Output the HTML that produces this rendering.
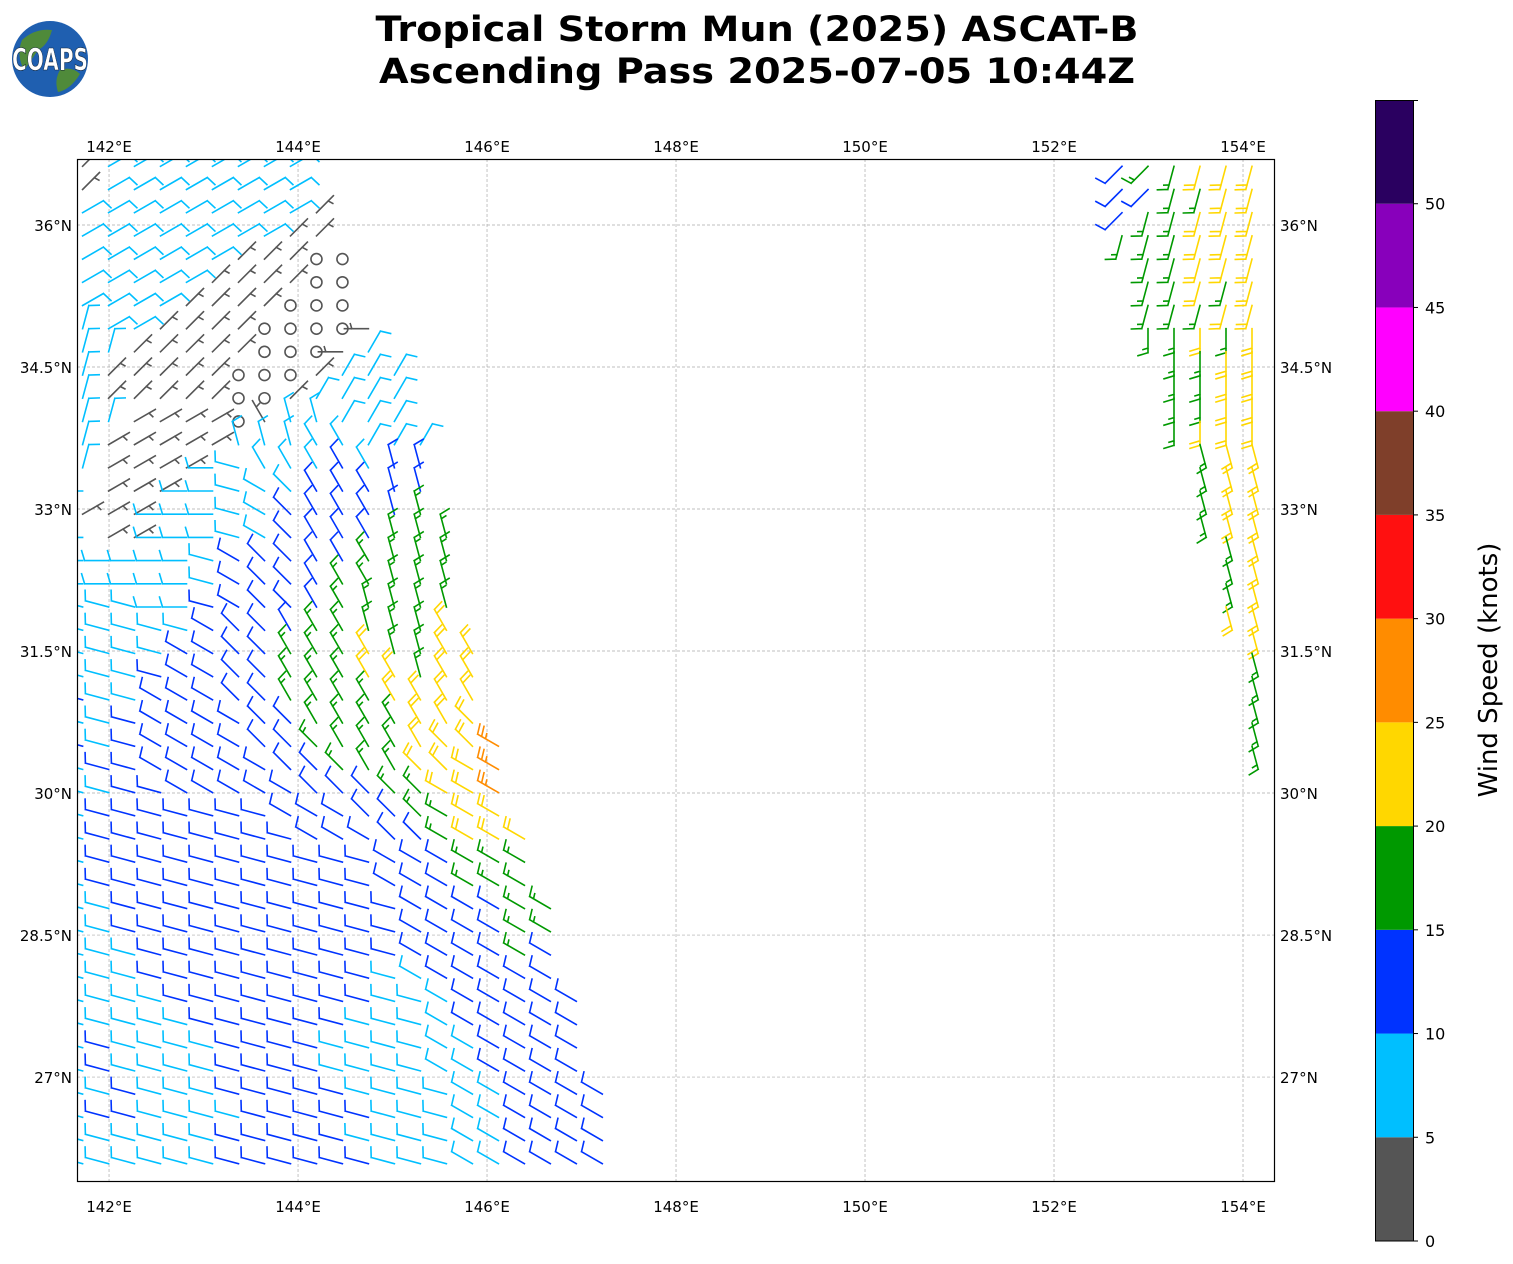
<!DOCTYPE html>
<html><head><meta charset="utf-8">
<style>
html,body{margin:0;padding:0;background:#fff;}
svg{display:block;font-family:"DejaVu Sans","Liberation Sans",sans-serif;}
</style></head>
<body>
<svg id="chart" width="1513" height="1264" viewBox="0 0 1513 1264" xmlns="http://www.w3.org/2000/svg">
  <defs><clipPath id="plotclip"><rect x="77" y="159" width="1197" height="1022"/></clipPath></defs>
  <g>
    <circle cx="50" cy="59" r="38" fill="#1f5fb0"/>
    <path d="M22,40 Q35,28 52,30 Q48,45 38,50 Q30,62 24,70 Q16,55 22,40Z" fill="#4f8a3a"/>
    <path d="M60,70 Q72,66 80,74 Q70,90 58,92 Q54,80 60,70Z" fill="#4f8a3a"/>
    <text x="50" y="70" text-anchor="middle" font-size="30" font-weight="bold" fill="#fff" stroke="#123" stroke-width="0.6" textLength="76" lengthAdjust="spacingAndGlyphs">COAPS</text>
  </g>
  <text x="757" y="41" text-anchor="middle" font-size="35" font-weight="bold" textLength="763" lengthAdjust="spacingAndGlyphs">Tropical Storm Mun (2025) ASCAT-B</text>
  <text x="757" y="83" text-anchor="middle" font-size="35" font-weight="bold" textLength="756" lengthAdjust="spacingAndGlyphs">Ascending Pass 2025-07-05 10:44Z</text>
  <g id="grid"></g>
  <g id="barbs" clip-path="url(#plotclip)"></g>
  <rect x="77.5" y="159.5" width="1197" height="1022" fill="none" stroke="#000" stroke-width="1.2"/>
  <g id="ticks"></g>
  <g id="cbar"></g>
  <text transform="translate(1497,670) rotate(-90)" text-anchor="middle" font-size="26">Wind Speed (knots)</text>
</svg>
<script>
// ---- axis ticks ----
const lonTicks = [142,144,146,148,150,152,154];
const latTicks = [36,34.5,33,31.5,30,28.5,27];
// ---- colorbar ----
const cbarBounds = [0,5,10,15,20,25,30,35,40,45,50,55];
const cbarColors = ['#555555','#00bfff','#0033ff','#009900','#ffd700','#ff8c00','#ff1010','#7f3f2a','#ff00ff','#8800bb','#2a0060'];
const cbarTicks = [0,5,10,15,20,25,30,35,40,45,50];
// ---- wind data: speed codes and direction codes per row ----
const speedCodes = {o:1,g:3,c:8,b:12,G:17,y:22,r:27};
const dirCodes = 'abcdefghijklmnopqrstuvwx'; // index*15 deg = wind-from direction
const rowLats = [36.62,36.375,36.13,35.885,35.64,35.395,35.15,34.905,34.66,34.415,34.17,33.925,33.68,33.435,33.19,32.945,32.70,32.455,32.21,31.965,31.72,31.475,31.23,30.985,30.74,30.495,30.25,30.005,29.76,29.515,29.27,29.025,28.78,28.535,28.29,28.045,27.80,27.555,27.31,27.065,26.82,26.575,26.33,26.085];
const leftSpeed = [
"gcccccccc","gcccccccc","cccccccccg","ccccccccgg","ccccccgggoo","cccccggggoo","ccccggggooo","cccggggoooog",
"ccgggggooogc","cgggggooogccc","cgggggoogcccc","ccggggogccccc","cgggggcccccccc","cggggcccccbcbb","cgggcccccbbbbb","gggcccccbbbbbG",
"cggcccccbbbbGGG","ccccccbbbbbGGGG","ccccccbbbbGGGGG","cccccbbbbbGGGGG","cccccbbbbGGGGGy","ccccbbbbGGGyGGyy","cccbbbbbGGGyyGyy","bccbbbbbGGGGyyyy",
"ccbbbbbbbGGGGyyy","bcbbbbbbbGGGGyyyr","cbbbbbbbbbGGGyyyr","ccbbbbbbbbbbGGyyr","cbbbbbbbbbbbbGGyy","cbbbbbbbbbbbbbGyyy","cbbbbbbbbbbbbbbGGG","cbbbbbbbbbbbbbbGGG",
"ccbbbbbbbbbbbbbbbGG","ccbbbbbbbbbbbbbbbGG","cccbbbbbbbbbbbbbbGb","cccbbbbbbbbbccbbbbb","ccccbbbbbbbbcccbbbbb","cccccbbbbbbccccbbbbb","cbccccbbbbccccccbbbb","cbccccbbbbccccccbbbb",
"ccbcccbbbbbccccccbbbb","cbbccccbbbbbcccccbbbb","ccccccbbbbbccccccbbbb","ccccccbbbbbbcccccbbbb"];
const leftDir = [
"deeeeeeee","deeeeeeee","eeeeeeeeed","eeeeeeeedd","eeeeeedddaa","eeeeeddddaa","eeeeddddaaa","beeddddaaaas",
"bbdddddaaasc","bdddddaaadccc","bdddddaadcccc","bbeeeeawxxccc","beeeeexxxwwccc","beeeestwwwwwxx","seeesstuvwwwxx","eeessstuvwwwxx",
"seessstuvwwwxxx","ssssstuvvwwwxxx","ssssstuvvwwwxxx","tttsstuvvwwxxxx","tttttuvvwwwxxxw","ttttuuvvwwwwxxww","ttttuuvvwwwwwxww","tttuuuvvwwwwwwww",
"tttuuuuvvwwwwwwv","tttuuuuvvvwwwwvvu","tttuuuuuvvvwwvvuu","ttttuuuuuvvvvvuuu","ttttttttuuuvvvuuu","tttttttttuuuvvuuuu","ttttttttttttuuuuuu","ttttttttttttuuuuuu",
"tttttttttttttuuuuuu","tttttttttttttuuuuuu","tttttttttttttuuuuuu","tttttttttttttuuuuuu","ttttttttttttttuuuuuu","ttttttttttttttuuuuuu","ttttttttttttttuuuuuu","ttttttttttttttuuuuuu",
"tttttttttttttttuuuuuu","tttttttttttttttuuuuuu","tttttttttttttttuuuuuu","tttttttttttttttuuuuuu"];
const rightStart = [40,40,40,40,41,41,41,41,42,42,42,42,43,43,43,43,44,44,44,44,45,45,45,45,45,45];
const rightSpeed = ["bGGyyy","bbGGyy","bGGyyy","GGGyyy","GGyyy","GGyGy","GGGyy","GGyGy","GGyy","GGyy","GGyy","Gyyy","Gyy","Gyy","Gyy","Gyy","Gy","Gy","Gy","yy","y","G","G","G","G","G"];
const rightDir = ["ppnnnn","ppnnnn","pnnnnn","nnnnnn","nnnnn","nnnnn","nnnnn","mmmmm","mmmm","mmmm","mmmm","mmmm","lll","lll","lll","lll","ll","ll","ll","ll","l","l","l","l","l","l"];
const lon0 = 141.72, dLon = 0.275;

// ---- scales ----
const X0=77, X1=1274, Y0=159, Y1=1181;
const LON_MIN=141.661, LON_MAX=154.328, LAT_MIN=25.902, LAT_MAX=36.697;
function xs(lon){return X0+(lon-LON_MIN)/(LON_MAX-LON_MIN)*(X1-X0);}
function ys(lat){return Y1-(lat-LAT_MIN)/(LAT_MAX-LAT_MIN)*(Y1-Y0);}
function cy(v){return 1241-(v-0)/(55-0)*(1241-100);}
const NS='http://www.w3.org/2000/svg';
function mk(tag,attrs,parent){const e=document.createElementNS(NS,tag);for(const k in attrs)e.setAttribute(k,attrs[k]);parent.appendChild(e);return e;}
function colorFor(kt){for(let i=0;i<cbarColors.length;i++){if(kt<cbarBounds[i+1])return cbarColors[i];}return cbarColors[cbarColors.length-1];}

// grid + ticks
const grid=document.getElementById('grid'), ticks=document.getElementById('ticks');
lonTicks.forEach(l=>{
  const x=xs(l);
  const ln=mk('line',{x1:x,x2:x,y1:Y0,y2:Y1,stroke:'#aaa','stroke-width':0.7,'stroke-dasharray':'3,2'},grid);
  
  
  [[143,'top'],[1203,'bottom']].forEach(p=>{
    const t=mk('text',{x:x,y:p[0]+9,'text-anchor':'middle','font-size':15},ticks);
    t.textContent=l+'°E';
    
    
  });
});
latTicks.forEach(l=>{
  const y=ys(l);
  const ln=mk('line',{x1:X0,x2:X1,y1:y,y2:y,stroke:'#aaa','stroke-width':0.7,'stroke-dasharray':'3,2'},grid);
  
  
  const lab=(l%1===0?l.toFixed(0):l.toFixed(1))+'°N';
  const t1=mk('text',{x:72,y:y+6,'text-anchor':'end','font-size':15},ticks);
  t1.textContent=lab;
  
  
  const t2=mk('text',{x:1280,y:y+6,'text-anchor':'start','font-size':15},ticks);
  t2.textContent=lab;
  
  
});

// colorbar
const cb=document.getElementById('cbar');
cbarColors.forEach((c,i)=>{
  const yT=cy(cbarBounds[i+1]), yB=cy(cbarBounds[i]);
  const r=mk('rect',{x:1375.5,y:yT,width:38,height:yB-yT,fill:c},cb);
  
  
});
mk('rect',{x:1375.5,y:100.5,width:38,height:1140.5,fill:'none',stroke:'#000','stroke-width':1},cb);
mk('line',{x1:1413.5,x2:1418,y1:100.5,y2:100.5,stroke:'#000'},cb);
cbarTicks.forEach(v=>{
  const y=cy(v);
  mk('line',{x1:1413.5,x2:1418,y1:y,y2:y,stroke:'#000'},cb);
  const t=mk('text',{x:1425,y:y+6,'font-size':16},cb);
  t.textContent=v;
  
  
});

// barbs
const bg=document.getElementById('barbs');
const L=24, FL=10, SP=4.6;
function barb(x,y,deg,kt){
  const col=colorFor(kt);
  if(kt<2.5){
    const c=mk('circle',{cx:x,cy:y,r:5.5,fill:'none',stroke:col,'stroke-width':1.6},bg);
    
    
    return;
  }
  const a=deg*Math.PI/180, dx=Math.sin(a), dy=-Math.cos(a);
  const px=-dy, py=dx;
  const tx=x+L*dx, ty=y+L*dy;
  let d='M'+x.toFixed(1)+','+y.toFixed(1)+'L'+tx.toFixed(1)+','+ty.toFixed(1);
  const n=Math.round(kt/5), full=Math.floor(n/2), half=n%2;
  for(let i=0;i<full;i++){
    const sx=tx-i*SP*dx, sy=ty-i*SP*dy;
    d+='M'+sx.toFixed(1)+','+sy.toFixed(1)+'L'+(sx+FL*px+0.3*FL*dx).toFixed(1)+','+(sy+FL*py+0.3*FL*dy).toFixed(1);
  }
  if(half){
    const k=full===0?1.6:full;
    const sx=tx-k*SP*dx, sy=ty-k*SP*dy;
    d+='M'+sx.toFixed(1)+','+sy.toFixed(1)+'L'+(sx+FL*0.5*px+0.15*FL*dx).toFixed(1)+','+(sy+FL*0.5*py+0.15*FL*dy).toFixed(1);
  }
  const p=mk('path',{d:d,stroke:col,'stroke-width':1.6,fill:'none','stroke-linecap':'square'},bg);
  
  
}
leftSpeed.forEach((row,r)=>{
  for(let c=0;c<row.length;c++){
    const kt=speedCodes[row[c]];
    const deg=dirCodes.indexOf(leftDir[r][c])*15;
    barb(xs(lon0+c*dLon), ys(rowLats[r]), deg, kt);
  }
});
rightSpeed.forEach((row,r)=>{
  for(let c=0;c<row.length;c++){
    const kt=speedCodes[row[c]];
    const deg=dirCodes.indexOf(rightDir[r][c])*15;
    barb(xs(lon0+(rightStart[r]+c)*dLon), ys(rowLats[r]), deg, kt);
  }
});
</script>
</body></html>
